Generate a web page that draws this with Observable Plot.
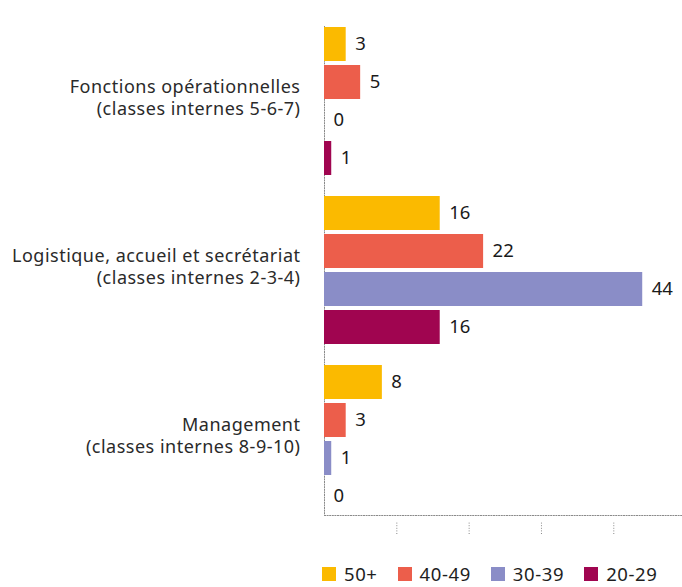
<!DOCTYPE html>
<html><head><meta charset="utf-8">
<script src="https://cdn.jsdelivr.net/npm/d3@7"></script>
<script src="https://cdn.jsdelivr.net/npm/@observablehq/plot@0.6"></script>
<style>
body{margin:0;background:#fff;font-family:"Noto Sans",sans-serif;color:#1e1e1e;overflow:hidden;}
#chart{height:545px;}
#legend{display:flex;align-items:center;margin-left:322px;margin-top:20px;font-size:18.5px;line-height:18px;height:18px;letter-spacing:0.6px;}
#legend .item{display:flex;align-items:center;margin-right:20px;}
#legend .sw{width:14px;height:14px;margin-right:8px;}
g[aria-label="fy-axis tick label"]{letter-spacing:0.5px;}
</style></head><body><div id="chart"></div><div id="legend"></div><script>
const categories = ["Fonctions opérationnelles\n(classes internes 5-6-7)", "Logistique, accueil et secrétariat\n(classes internes 2-3-4)", "Management\n(classes internes 8-9-10)"];
const series = ["50+", "40-49", "30-39", "20-29"];
const colors = ["#FBBA00", "#EC5E4B", "#8A8DC7", "#A00550"];
const values50 = [3, 16, 8];
const values40 = [5, 22, 3];
const values30 = [0, 44, 1];
const values20 = [1, 16, 0];
const xTicks = [10, 20, 30, 40];

const seriesValues = [values50, values40, values30, values20];
const data = [];
categories.forEach((c, i) => series.forEach((s, j) => data.push({category: c, series: s, value: seriesValues[j][i]})));

const axisStyle = {stroke: "#8a8a8a", strokeDasharray: "1,1.6", strokeWidth: 1};

const plot = Plot.plot({
  width: 682, height: 545,
  marginLeft: 324, marginRight: 0, marginTop: 12, marginBottom: 10,
  style: {fontFamily: "Noto Sans", fontSize: "16px", color: "#1e1e1e", background: "#fff"},
  x: {domain: [0, 49.5], axis: null},
  y: {domain: series, paddingInner: 0.1, paddingOuter: 0, axis: null},
  fy: {domain: categories, paddingInner: 0.107, paddingOuter: 0.1, align: 0.41, label: null, axis: null},
  color: {domain: series, range: colors},
  marks: [
    Plot.frame({anchor: "left", facet: "super", ...axisStyle}),
    Plot.frame({anchor: "bottom", facet: "super", ...axisStyle}),
    Plot.axisX(xTicks, {anchor: "bottom", tickSize: -13, dy: 19, tickFormat: () => "", label: null, ...axisStyle}),
    Plot.barX(data, {x: "value", y: "series", fy: "category", fill: "series"}),
    Plot.text(data, {x: "value", y: "series", fy: "category", text: d => String(d.value), textAnchor: "start", dx: 9, fontSize: 18.5, fill: "#1a1a1a"}),
    Plot.axisFy({anchor: "left", label: null, tickSize: 0, tickPadding: 24, dy: -5, fontSize: 18, lineHeight: 1.25, fill: "#2a2a2a"})
  ]
});
document.getElementById("chart").append(plot);

const legend = document.getElementById("legend");
series.forEach((s, j) => {
  const item = document.createElement("div");
  item.className = "item";
  const sw = document.createElement("span");
  sw.className = "sw";
  sw.style.background = colors[j];
  const t = document.createElement("span");
  t.textContent = s;
  item.append(sw, t);
  legend.append(item);
});
</script></body></html>
